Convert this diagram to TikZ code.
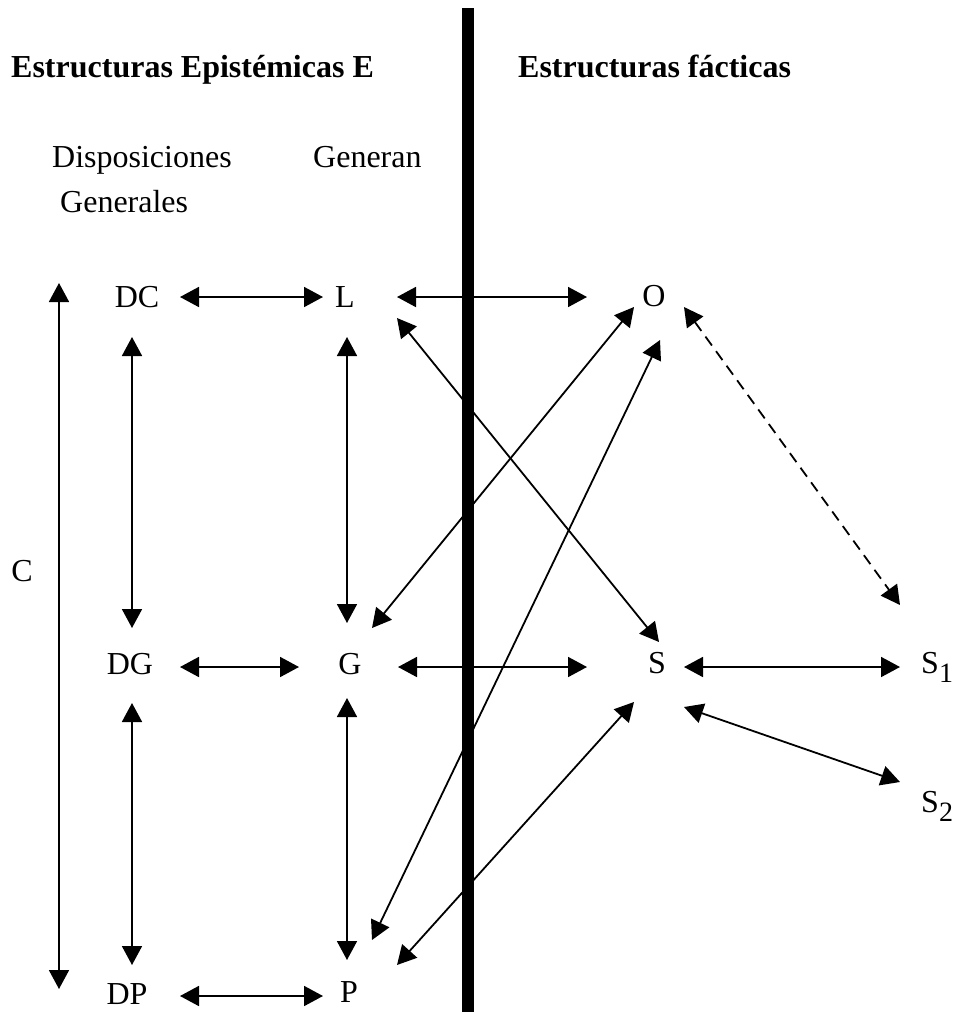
\documentclass[tikz,border=0pt]{standalone}
\usepackage{fontspec}
\setmainfont{Liberation Serif}
\usetikzlibrary{arrows.meta}

\begin{document}
\begin{tikzpicture}[
  x=1pt, y=-1pt,
  >={Triangle[length=19pt, width=20pt]},
  letter/.style={inner sep=0pt, font=\fontsize{32}{38}\selectfont},
  caption/.style={letter, anchor=base west},
  heading/.style={caption, font=\fontsize{32}{38}\selectfont\bfseries},
  link/.style={<->, line width=1.8pt},
  wall/.style={line width=12pt}
]
  \useasboundingbox (0,0) rectangle (953,1012);

  % headings
  \node[heading] (epist) at (11,77) {Estructuras Epistémicas E};
  \node[heading] (fact) at (518,77) {Estructuras fácticas};
  \node[caption] (disp) at (52,167) {Disposiciones};
  \node[caption] (gral) at (60,212) {Generales};
  \node[caption] (gen) at (313,167) {Generan};

  % letters
  \node[letter] (DC) at (137,297) {DC};
  \node[letter] (L) at (345,297) {L};
  \node[letter] (O) at (654,296) {O};
  \node[letter] (DG) at (130,664) {DG};
  \node[letter] (G) at (350,664) {G};
  \node[letter] (S) at (657,663) {S};
  \node[letter] (DP) at (127,994) {DP};
  \node[letter] (P) at (349,992) {P};
  \node[letter] (C) at (22,571) {C};
  \node[caption] (S1) at (921,673) {S\raisebox{-9pt}{\fontsize{28}{28}\selectfont 1}};
  \node[caption] (S2) at (921,812) {S\raisebox{-9pt}{\fontsize{28}{28}\selectfont 2}};

  % dividing wall
  \draw[wall] (468,8) -- (468,1012);

  % links
  \draw[link] ([shift={(37,-288)}]C.center) -- ([shift={(37,418)}]C.center);
  \draw[link] ([shift={(43,0)}]DC.center) -- ([shift={(-22,0)}]L.center);
  \draw[link] ([shift={(52,0)}]L.center) -- ([shift={(-67,1)}]O.center);
  \draw[link] ([shift={(-5,40)}]DC.center) -- ([shift={(2,-36)}]DG.center);
  \draw[link] ([shift={(2,40)}]L.center) -- ([shift={(-3,-41)}]G.center);
  \draw[link] ([shift={(52,21)}]L.center) -- ([shift={(2,-21)}]S.center);
  \draw[link] ([shift={(-20,11)}]O.center) -- ([shift={(22,-36)}]G.center);
  \draw[link] ([shift={(6,44)}]O.center) -- ([shift={(23,-52)}]P.center);
  \draw[link, dash pattern=on 11pt off 7pt] ([shift={(30,11)}]O.center) -- ([shift={(-21,-68)}]S1.base west);
  \draw[link] ([shift={(50,3)}]DG.center) -- ([shift={(-51,3)}]G.center);
  \draw[link] ([shift={(48,3)}]G.center) -- ([shift={(-70,4)}]S.center);
  \draw[link] ([shift={(27,4)}]S.center) -- ([shift={(-21,-6)}]S1.base west);
  \draw[link] ([shift={(27,44)}]S.center) -- ([shift={(-21,-30)}]S2.base west);
  \draw[link] ([shift={(2,39)}]DG.center) -- ([shift={(5,-29)}]DP.center);
  \draw[link] ([shift={(-3,34)}]G.center) -- ([shift={(-2,-32)}]P.center);
  \draw[link] ([shift={(-23,39)}]S.center) -- ([shift={(48,-27)}]P.center);
  \draw[link] ([shift={(53,2)}]DP.center) -- ([shift={(-26,4)}]P.center);
\end{tikzpicture}
\end{document}
